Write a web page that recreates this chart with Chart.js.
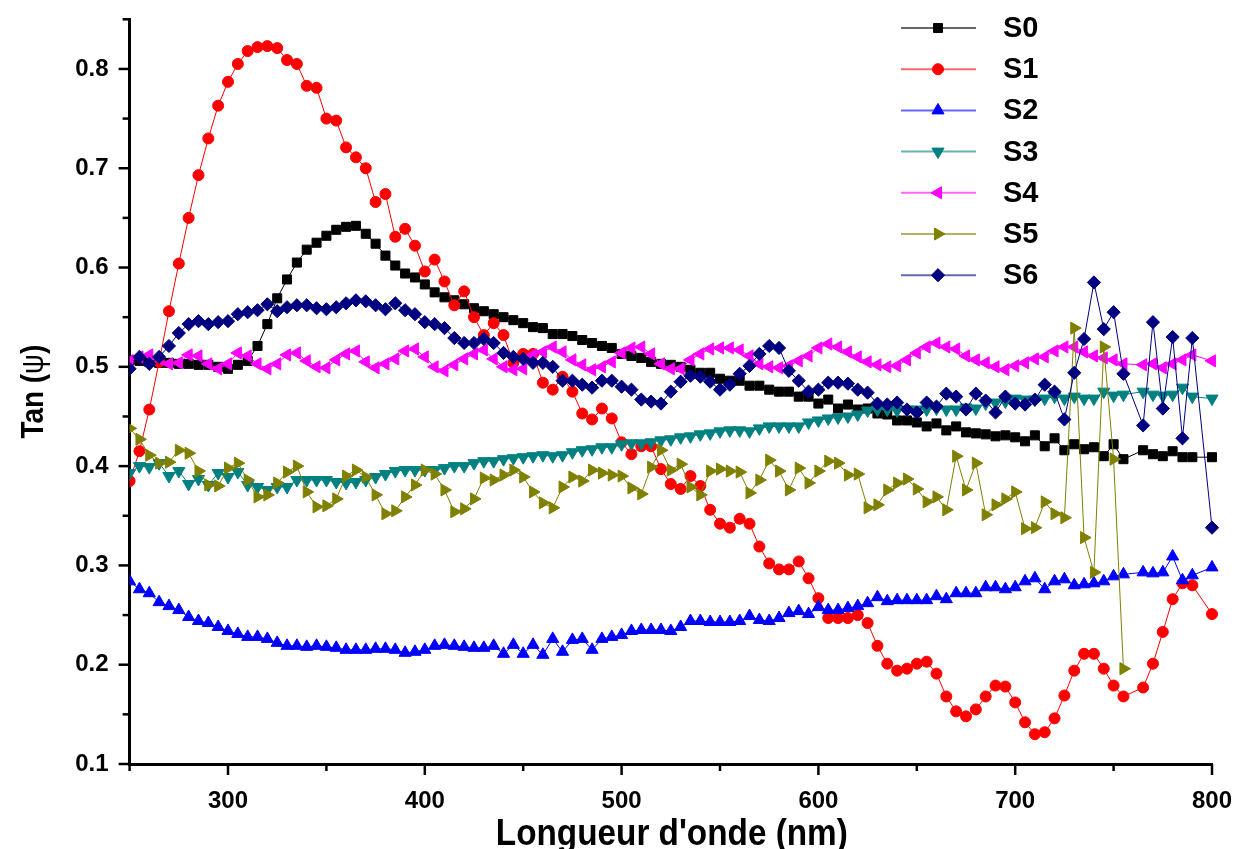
<!DOCTYPE html>
<html>
<head>
<meta charset="utf-8">
<script src="https://cdn.jsdelivr.net/npm/chart.js@4.4.1/dist/chart.umd.min.js"></script>
<style>
  html, body { margin: 0; padding: 0; background: #ffffff; }
  #wrap { width: 1235px; height: 849px; position: relative; }
</style>
</head>
<body>
<div id="wrap"><canvas id="chart" width="1235" height="849"></canvas></div>
<script>
// Wavelength grid (nm)
const wavelengths = [
  250,255,260,265,270,275,280,285,290,295,
  300,305,310,315,320,325,330,335,340,345,
  350,355,360,365,370,375,380,385,390,395,
  400,405,410,415,420,425,430,435,440,445,
  450,455,460,465,470,475,480,485,490,495,
  500,505,510,515,520,525,530,535,540,545,
  550,555,560,565,570,575,580,585,590,595,
  600,605,610,615,620,625,630,635,640,645,
  650,655,660,665,670,675,680,685,690,695,
  700,705,710,715,720,725,730,735,740,745,
  750,755,
  765,770,775,780,785,790,
  800
];

const s0 = [
  0.507,0.506,0.505,0.504,0.504,0.503,0.503,0.502,0.502,0.500,
  0.498,0.502,0.506,0.521,0.543,0.569,0.588,0.605,0.618,0.625,
  0.632,0.638,0.641,0.642,0.634,0.624,0.612,0.602,0.594,0.590,
  0.583,0.575,0.570,0.567,0.563,0.559,0.556,0.553,0.550,0.547,
  0.544,0.540,0.539,0.533,0.533,0.531,0.527,0.524,0.521,0.519,
  0.513,0.511,0.509,0.505,0.503,0.502,0.500,0.497,0.494,0.494,
  0.488,0.486,0.486,0.481,0.481,0.477,0.475,0.475,0.470,0.470,
  0.463,0.467,0.458,0.462,0.457,0.458,0.453,0.452,0.446,0.446,
  0.444,0.440,0.443,0.436,0.440,0.434,0.433,0.432,0.430,0.431,
  0.429,0.425,0.431,0.420,0.428,0.416,0.422,0.417,0.419,0.410,
  0.422,0.407,
  0.416,0.412,0.410,0.415,0.409,0.409,
  0.409
];

const s1 = [
  0.385,0.415,0.457,0.505,0.556,0.604,0.650,0.693,0.730,0.763,
  0.787,0.805,0.818,0.822,0.823,0.821,0.809,0.805,0.783,0.781,
  0.750,0.748,0.721,0.711,0.700,0.666,0.674,0.631,0.639,0.622,
  0.596,0.608,0.586,0.562,0.576,0.550,0.532,0.544,0.532,0.504,
  0.513,0.513,0.484,0.477,0.490,0.475,0.453,0.447,0.458,0.448,
  0.424,0.412,0.420,0.420,0.397,0.382,0.377,0.390,0.380,0.356,
  0.342,0.338,0.347,0.342,0.319,0.302,0.296,0.296,0.304,0.287,
  0.267,0.247,0.247,0.247,0.250,0.242,0.219,0.201,0.194,0.196,
  0.201,0.203,0.191,0.168,0.153,0.148,0.155,0.168,0.179,0.178,
  0.162,0.142,0.130,0.132,0.146,0.169,0.194,0.211,0.211,0.196,
  0.179,0.168,
  0.177,0.201,0.233,0.266,0.282,0.280,
  0.251
];

const s2 = [
  0.284,0.276,0.272,0.263,0.259,0.255,0.248,0.244,0.242,0.238,
  0.234,0.231,0.228,0.228,0.226,0.222,0.219,0.219,0.218,0.219,
  0.218,0.217,0.215,0.215,0.215,0.216,0.216,0.215,0.212,0.213,
  0.215,0.219,0.220,0.219,0.218,0.217,0.217,0.219,0.211,0.220,
  0.211,0.220,0.210,0.226,0.213,0.225,0.226,0.215,0.226,0.228,
  0.230,0.234,0.235,0.235,0.235,0.234,0.238,0.244,0.244,0.243,
  0.243,0.243,0.244,0.249,0.245,0.244,0.247,0.252,0.254,0.251,
  0.258,0.255,0.255,0.257,0.259,0.262,0.268,0.264,0.265,0.265,
  0.265,0.265,0.269,0.266,0.272,0.272,0.272,0.278,0.278,0.276,
  0.278,0.284,0.287,0.276,0.284,0.286,0.280,0.281,0.282,0.284,
  0.289,0.291,
  0.293,0.292,0.293,0.309,0.285,0.290,
  0.298
];

const s3 = [
  0.393,0.400,0.399,0.403,0.390,0.395,0.382,0.387,0.381,0.393,
  0.389,0.394,0.381,0.379,0.376,0.379,0.379,0.386,0.386,0.386,
  0.386,0.384,0.383,0.384,0.386,0.389,0.392,0.395,0.396,0.396,
  0.396,0.396,0.398,0.400,0.400,0.403,0.405,0.405,0.407,0.408,
  0.409,0.410,0.411,0.410,0.411,0.414,0.416,0.417,0.419,0.419,
  0.422,0.423,0.423,0.424,0.426,0.427,0.429,0.430,0.432,0.433,
  0.435,0.436,0.436,0.435,0.438,0.440,0.440,0.440,0.440,0.444,
  0.446,0.448,0.449,0.450,0.452,0.456,0.457,0.457,0.456,0.457,
  0.457,0.457,0.458,0.457,0.457,0.459,0.458,0.463,0.464,0.465,
  0.468,0.467,0.467,0.468,0.470,0.468,0.470,0.468,0.468,0.475,
  0.471,0.472,
  0.475,0.472,0.471,0.472,0.479,0.470,
  0.468
];

const s4 = [
  0.506,0.510,0.512,0.508,0.503,0.504,0.512,0.511,0.503,0.498,
  0.503,0.514,0.511,0.503,0.498,0.503,0.512,0.514,0.506,0.500,
  0.499,0.507,0.513,0.516,0.505,0.499,0.503,0.508,0.516,0.518,
  0.510,0.500,0.496,0.502,0.508,0.513,0.517,0.508,0.500,0.497,
  0.498,0.512,0.515,0.520,0.515,0.507,0.502,0.497,0.500,0.505,
  0.514,0.519,0.520,0.513,0.503,0.498,0.498,0.507,0.513,0.518,
  0.519,0.519,0.517,0.511,0.503,0.500,0.499,0.501,0.506,0.511,
  0.519,0.523,0.520,0.515,0.510,0.505,0.502,0.500,0.501,0.507,
  0.514,0.520,0.524,0.520,0.518,0.511,0.507,0.504,0.500,0.497,
  0.501,0.504,0.508,0.510,0.516,0.520,0.520,0.515,0.511,0.509,
  0.507,0.503,
  0.502,0.503,0.499,0.503,0.507,0.512,
  0.506
];

const s5 = [
  0.438,0.427,0.411,0.403,0.404,0.416,0.413,0.395,0.381,0.380,
  0.398,0.403,0.386,0.369,0.371,0.383,0.394,0.400,0.374,0.359,
  0.360,0.367,0.390,0.396,0.389,0.371,0.352,0.355,0.369,0.381,
  0.396,0.392,0.376,0.354,0.357,0.367,0.388,0.386,0.391,0.396,
  0.389,0.374,0.363,0.358,0.379,0.389,0.385,0.396,0.393,0.391,
  0.390,0.378,0.372,0.399,0.416,0.396,0.402,0.379,0.371,0.395,
  0.397,0.395,0.394,0.373,0.386,0.406,0.395,0.376,0.398,0.383,
  0.395,0.405,0.403,0.391,0.392,0.358,0.361,0.376,0.383,0.387,
  0.377,0.364,0.369,0.356,0.410,0.376,0.403,0.351,0.361,0.367,
  0.374,0.337,0.338,0.364,0.352,0.348,0.539,0.328,0.293,0.520,
  0.407,0.196,
  null,null,null,null,null,null,
  null
];

const s6 = [
  0.498,0.510,0.503,0.510,0.521,0.534,0.543,0.546,0.543,0.545,
  0.546,0.553,0.555,0.557,0.563,0.556,0.560,0.562,0.562,0.559,
  0.558,0.560,0.564,0.567,0.566,0.562,0.558,0.564,0.557,0.553,
  0.545,0.543,0.539,0.529,0.524,0.524,0.528,0.524,0.514,0.510,
  0.508,0.504,0.504,0.500,0.486,0.486,0.482,0.479,0.486,0.486,
  0.480,0.477,0.467,0.465,0.463,0.475,0.485,0.491,0.490,0.485,
  0.477,0.482,0.493,0.501,0.513,0.521,0.519,0.496,0.486,0.475,
  0.477,0.484,0.484,0.483,0.477,0.474,0.463,0.462,0.464,0.457,
  0.454,0.464,0.460,0.473,0.470,0.457,0.473,0.466,0.454,0.470,
  0.463,0.462,0.467,0.482,0.475,0.447,0.494,0.528,0.585,0.538,
  0.555,0.493,
  0.441,0.545,0.458,0.530,0.428,0.529,
  0.338
];

const seriesNames = ['S0', 'S1', 'S2', 'S3', 'S4', 'S5', 'S6'];
const seriesValues = [s0, s1, s2, s3, s4, s5, s6];
const seriesColors = ['#000000', '#ff0000', '#0000ff', '#008080', '#ff00ff', '#808000', '#000080'];

// Axis ticks
const xTickValues = [300, 400, 500, 600, 700, 800];
const xMinorTicks = [250, 350, 450, 550, 650, 750];
const yTickValues = [0.1, 0.2, 0.3, 0.4, 0.5, 0.6, 0.7, 0.8];
const yMinorTicks = [0.15, 0.25, 0.35, 0.45, 0.55, 0.65, 0.75, 0.85];

const xTitle = "Longueur d'onde (nm)";
// y title in pieces: the Greek letter is set in a lighter weight
const yTitleParts = [
  { text: 'Tan (', weight: 'bold' },
  { text: '\u03c8', weight: 'normal' },
  { text: ')', weight: 'bold' }
];

// Marker shapes per series
const markers = [
  { pointStyle: 'rect', radius: 6.4, rotation: 0 },
  { pointStyle: 'circle', radius: 5.5, rotation: 0 },
  { pointStyle: 'triangle', radius: 7, rotation: 0 },
  { pointStyle: 'triangle', radius: 7, rotation: 180 },
  { pointStyle: 'triangle', radius: 7, rotation: 270 },
  { pointStyle: 'triangle', radius: 7, rotation: 90 },
  { pointStyle: 'rectRot', radius: 6.6, rotation: 0 }
];

const FONT = "'Liberation Sans', Arial, Helvetica, sans-serif";

const datasets = seriesValues.map((vals, i) => ({
  label: seriesNames[i],
  data: wavelengths
    .map((w, j) => ({ x: w, y: vals[j] }))
    .filter(p => p.y !== null),
  borderColor: seriesColors[i],
  backgroundColor: seriesColors[i],
  borderWidth: 1,
  tension: 0,
  pointStyle: markers[i].pointStyle,
  pointRadius: markers[i].radius,
  pointRotation: markers[i].rotation,
  pointBackgroundColor: seriesColors[i],
  pointBorderColor: seriesColors[i],
  pointBorderWidth: 1,
  order: seriesValues.length - 1 - i,
  clip: { left: 0, top: false, right: false, bottom: 0 }
}));

// Keep the plot frame fixed: no extra room reserved for edge tick labels
const noLabelPadding = s => {
  s.paddingTop = 0; s.paddingBottom = 0; s.paddingLeft = 0; s.paddingRight = 0;
};

// Outward major/minor tick marks, axis titles and the in-plot legend
const decorations = {
  id: 'decorations',
  afterDraw(chart) {
    const ctx = chart.ctx;
    const xs = chart.scales.x;
    const ys = chart.scales.y;
    const area = chart.chartArea;
    ctx.save();
    ctx.strokeStyle = '#000';
    ctx.lineWidth = 2.5;
    ctx.lineCap = 'butt';
    const drawX = (vals, len) => vals.forEach(v => {
      const px = xs.getPixelForValue(v);
      ctx.beginPath(); ctx.moveTo(px, area.bottom); ctx.lineTo(px, area.bottom + len); ctx.stroke();
    });
    const drawY = (vals, len) => vals.forEach(v => {
      const py = ys.getPixelForValue(v);
      ctx.beginPath(); ctx.moveTo(area.left, py); ctx.lineTo(area.left - len, py); ctx.stroke();
    });
    drawX(xTickValues, 11);
    drawX(xMinorTicks, 7);
    drawY(yTickValues, 11);
    drawY(yMinorTicks, 7);

    // axis titles
    ctx.fillStyle = '#000';
    ctx.textAlign = 'center';
    ctx.textBaseline = 'alphabetic';
    ctx.save();
    ctx.translate((area.left + area.right) / 2 + 1, 845);
    ctx.scale(0.9, 1);
    ctx.font = 'bold 37px ' + FONT;
    ctx.fillText(xTitle, 0, 0);
    ctx.restore();

    ctx.save();
    ctx.translate(43, (area.top + area.bottom) / 2);
    ctx.rotate(-Math.PI / 2);
    ctx.scale(0.9, 1);
    ctx.textAlign = 'left';
    const widths = yTitleParts.map(p => {
      ctx.font = p.weight + ' 31px ' + FONT;
      return ctx.measureText(p.text).width;
    });
    let cx = -widths.reduce((a, b) => a + b, 0) / 2;
    yTitleParts.forEach((p, k) => {
      ctx.font = p.weight + ' 31px ' + FONT;
      ctx.fillText(p.text, cx, 0);
      cx += widths[k];
    });
    ctx.restore();

    // legend
    const lx0 = 901, lx1 = 976, mx = 938, tx = 1003, ty0 = 28, step = 41.2;
    chart.data.datasets.forEach((ds, i) => {
      const y = ty0 + i * step;
      ctx.save();
      ctx.globalAlpha = 0.6;
      ctx.strokeStyle = seriesColors[i];
      ctx.lineWidth = 2;
      ctx.beginPath(); ctx.moveTo(lx0, y); ctx.lineTo(lx1, y); ctx.stroke();
      ctx.restore();
      ctx.save();
      ctx.fillStyle = seriesColors[i];
      ctx.strokeStyle = seriesColors[i];
      ctx.lineWidth = 1;
      Chart.helpers.drawPoint(ctx, {
        pointStyle: markers[i].pointStyle,
        rotation: markers[i].rotation,
        radius: markers[i].radius,
        borderWidth: 1
      }, mx, y);
      ctx.restore();
      ctx.fillStyle = '#000';
      ctx.textAlign = 'left';
      ctx.textBaseline = 'middle';
      ctx.font = 'bold 29px ' + FONT;
      ctx.fillText(ds.label, tx, y + 1);
    });
    ctx.restore();
  }
};

new Chart(document.getElementById('chart'), {
  type: 'line',
  data: { datasets },
  options: {
    responsive: false,
    animation: false,
    devicePixelRatio: 1,
    layout: { autoPadding: false, padding: { left: 0, right: 23, top: 19.3, bottom: 0 } },
    plugins: { legend: { display: false }, tooltip: { enabled: false } },
    scales: {
      x: {
        type: 'linear',
        position: 'bottom',
        min: 250,
        max: 800,
        grid: { display: false },
        border: { display: true, color: '#000', width: 3 },
        ticks: {
          color: '#000',
          padding: 15,
          maxRotation: 0,
          font: { family: FONT, size: 24, weight: 'bold' }
        },
        afterBuildTicks: s => { s.ticks = xTickValues.map(v => ({ value: v })); },
        afterFit: s => { s.height = 85; noLabelPadding(s); }
      },
      y: {
        type: 'linear',
        min: 0.1,
        max: 0.85,
        grid: { display: false },
        border: { display: true, color: '#000', width: 3 },
        ticks: {
          color: '#000',
          padding: 13,
          font: { family: FONT, size: 24, weight: 'bold' },
          callback: v => v.toFixed(1)
        },
        afterBuildTicks: s => { s.ticks = yTickValues.map(v => ({ value: v })); },
        afterFit: s => { s.width = 129.6; noLabelPadding(s); }
      }
    }
  },
  plugins: [decorations]
});
</script>
</body>
</html>
